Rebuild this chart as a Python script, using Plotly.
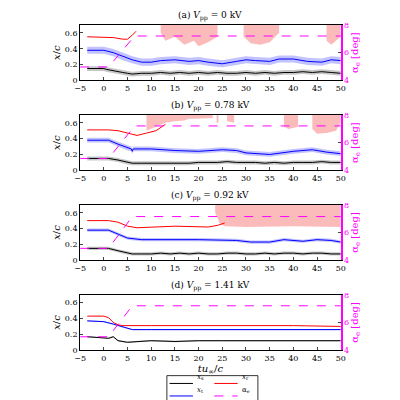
import numpy as np
import plotly.graph_objects as go

# data ------------------------------------------------------------------------

TITLES = ['(a) <i>V</i><sub>pp</sub> = 0 kV', '(b) <i>V</i><sub>pp</sub> = 0.78 kV',
          '(c) <i>V</i><sub>pp</sub> = 0.92 kV', '(d) <i>V</i><sub>pp</sub> = 1.41 kV']

# x_s (black) : time, mean, band half width
xsT = [[-3.5, 0, 0.5, 2, 4, 5, 6, 8, 10, 12, 14, 16, 18, 20, 22, 24, 26, 28, 30, 32, 34, 36, 38, 40, 42, 44, 46, 48, 50],
       [-3.5, 0, 1, 3, 5, 6, 8, 10, 12, 14, 16, 18, 20, 22, 24, 26, 28, 30, 32, 34, 36, 38, 40, 42, 44, 46, 48, 50],
       [-3.5, 0, 1, 3, 5, 6, 8, 10, 12, 14, 16, 18, 20, 22, 24, 26, 28, 30, 32, 34, 36, 38, 40, 42, 44, 46, 48, 50],
       [-3.5, 0, 1, 2, 3, 5, 7, 10, 15, 20, 25, 30, 35, 40, 45, 50]]
xsY = [[0.15, 0.15, 0.14, 0.12, 0.10, 0.09, 0.08, 0.09, 0.09, 0.10, 0.09, 0.10, 0.09, 0.10, 0.09, 0.10, 0.09, 0.09, 0.10, 0.09, 0.10, 0.09, 0.10, 0.10, 0.11, 0.10, 0.11, 0.10, 0.09],
       [0.15, 0.15, 0.15, 0.13, 0.10, 0.09, 0.09, 0.09, 0.09, 0.09, 0.09, 0.09, 0.10, 0.10, 0.10, 0.11, 0.10, 0.10, 0.10, 0.09, 0.10, 0.09, 0.10, 0.10, 0.10, 0.11, 0.10, 0.10],
       [0.15, 0.15, 0.15, 0.12, 0.09, 0.08, 0.08, 0.08, 0.09, 0.08, 0.09, 0.08, 0.09, 0.08, 0.08, 0.09, 0.09, 0.08, 0.08, 0.09, 0.08, 0.09, 0.09, 0.08, 0.09, 0.09, 0.08, 0.08],
       [0.17, 0.16, 0.15, 0.17, 0.12, 0.10, 0.11, 0.12, 0.11, 0.12, 0.12, 0.12, 0.12, 0.12, 0.12, 0.12]]
xsW = [0.03, 0.025, 0.02, 0.01]

# x_t (blue)
xtT = [[-3.5, 0, 2, 4, 6, 8, 10, 12, 15, 18, 20, 22, 25, 28, 30, 32, 35, 37, 40, 43, 46, 48, 50],
       [-3.5, 1, 3, 5, 5.8, 6, 6.2, 10, 15, 20, 25, 28, 30, 35, 40, 44, 47, 50],
       [-3.5, 1, 3, 5, 8, 20, 28, 31, 35, 38, 42, 45, 48, 50],
       [-3.5, 0, 2, 4, 6, 10, 20, 30, 40, 50]]
xtY = [[0.38, 0.38, 0.35, 0.30, 0.26, 0.23, 0.23, 0.25, 0.26, 0.24, 0.25, 0.23, 0.21, 0.24, 0.26, 0.25, 0.24, 0.27, 0.27, 0.24, 0.23, 0.26, 0.25],
       [0.38, 0.38, 0.33, 0.28, 0.27, 0.24, 0.27, 0.27, 0.25, 0.24, 0.26, 0.25, 0.22, 0.20, 0.24, 0.26, 0.23, 0.21],
       [0.38, 0.38, 0.33, 0.28, 0.26, 0.26, 0.25, 0.23, 0.23, 0.26, 0.24, 0.26, 0.25, 0.23],
       [0.37, 0.36, 0.33, 0.29, 0.26, 0.26, 0.26, 0.26, 0.26, 0.26]]
xtW = [0.045, 0.03, 0.02, 0.008]

# x_r (red)
xrT = [[-3.5, 0, 2, 4, 5, 6, 6.8],
       [-3.5, 1, 3, 6, 7, 9, 11, 13],
       [-3.5, 1, 3, 5, 7, 10, 15, 22, 24, 25.5],
       [-3.5, 0, 1, 2, 3, 4, 10, 20, 30, 40, 50]]
xrY = [[0.55, 0.54, 0.54, 0.52, 0.52, 0.57, 0.62],
       [0.51, 0.51, 0.50, 0.45, 0.44, 0.47, 0.50, 0.58],
       [0.50, 0.50, 0.48, 0.43, 0.41, 0.42, 0.43, 0.42, 0.44, 0.47],
       [0.43, 0.43, 0.41, 0.35, 0.32, 0.31, 0.31, 0.31, 0.31, 0.31, 0.30]]

# red spread regions reaching above the axis (time, lower edge)
rbT = [[[12, 13, 15, 17, 19, 20, 22, 24], [29.5, 31, 33, 35, 37], [47, 48, 50]],
       [[9, 11, 13, 15, 17, 18, 19, 23], [23.8, 24.2], [26, 27.5], [38, 39, 41], [44, 45, 47, 49, 50]],
       [[23.5, 24.5, 25.5, 30, 40, 50]],
       []]
rbY = [[[0.60, 0.50, 0.55, 0.45, 0.50, 0.43, 0.48, 0.55], [0.55, 0.47, 0.45, 0.48, 0.60], [0.50, 0.45, 0.55]],
       [[0.50, 0.55, 0.60, 0.62, 0.63, 0.65, 0.65, 0.66], [0.60, 0.60], [0.62, 0.60], [0.55, 0.52, 0.55], [0.52, 0.46, 0.47, 0.50, 0.60]],
       [[0.60, 0.46, 0.43, 0.42, 0.43, 0.42]],
       []]

# alpha_e (magenta dashed)
aT = [[-5, 1, 6.5, 50], [-5, 1, 6.5, 50], [-5, 1, 6, 50], [-5, 1, 6, 50]]
aY = [[4.97, 4.97, 7.2, 7.2], [4.86, 4.86, 7.2, 7.2], [4.86, 4.86, 7.15, 7.15], [4.97, 4.97, 7.2, 7.2]]

# plot ------------------------------------------------------------------------

FONT = 'DejaVu Serif'
X0, X1 = 0.17, 0.84
DOMS = [(0.825, 0.967), (0.595, 0.737), (0.365, 0.507), (0.135, 0.277)]

fig = go.Figure()

def band(fig, t, y, w, fill, xa, ya):
    t = np.array(t, float); y = np.array(y, float)
    fig.add_trace(go.Scatter(x=np.concatenate([t, t[::-1]]),
                             y=np.concatenate([y + w, (y - w)[::-1]]), mode='lines',
                             fill='toself', fillcolor=fill, line=dict(width=0),
                             xaxis=xa, yaxis=ya, showlegend=False, hoverinfo='skip'))

for i in range(4):
    n = i + 1
    xa = 'x' if n == 1 else 'x%d' % n
    ya = 'y' if n == 1 else 'y%d' % n
    yr = 'y%d' % (n + 4)
    for segT, segY in zip(rbT[i], rbY[i]):
        segT = np.array(segT); segY = np.array(segY)
        fig.add_trace(go.Scatter(x=np.concatenate([segT, segT[::-1]]),
                                 y=np.concatenate([segY, np.full(len(segT), 0.7)]), mode='lines',
                                 fill='toself', fillcolor='rgba(250,150,150,0.65)', line=dict(width=0),
                                 xaxis=xa, yaxis=ya, showlegend=False, hoverinfo='skip'))
    band(fig, xsT[i], xsY[i], xsW[i], 'rgba(130,130,130,0.45)', xa, ya)
    band(fig, xtT[i], xtY[i], xtW[i], 'rgba(120,120,255,0.45)', xa, ya)
    fig.add_trace(go.Scatter(x=xsT[i], y=xsY[i], mode='lines', line=dict(color='black', width=1),
                             xaxis=xa, yaxis=ya, showlegend=False))
    fig.add_trace(go.Scatter(x=xtT[i], y=xtY[i], mode='lines', line=dict(color='blue', width=1),
                             xaxis=xa, yaxis=ya, showlegend=False))
    fig.add_trace(go.Scatter(x=xrT[i], y=xrY[i], mode='lines', line=dict(color='red', width=1),
                             xaxis=xa, yaxis=ya, showlegend=False))
    fig.add_trace(go.Scatter(x=aT[i], y=aY[i], mode='lines', line=dict(color='magenta', width=1, dash='dash'),
                             xaxis=xa, yaxis=yr, showlegend=False))

    d = DOMS[i]
    fig.update_layout({
        'xaxis%s' % ('' if n == 1 else n): dict(
            domain=[X0, X1], anchor=ya, range=[-5, 50], dtick=5, ticks='inside', ticklen=3,
            showline=True, mirror=True, linecolor='black', showgrid=False, zeroline=False,
            title=dict(text='<i>tu</i><sub>∞</sub>/<i>c</i>', standoff=0) if n == 4 else None),
        'yaxis%s' % ('' if n == 1 else n): dict(
            domain=list(d), anchor=xa, range=[0, 0.7], tickvals=[0, 0.2, 0.4, 0.6],
            ticktext=['0', '0.2', '0.4', '0.6'], ticks='inside', ticklen=3,
            showline=True, linecolor='black', showgrid=False, zeroline=False,
            title=dict(text='<i>x</i>/<i>c</i>', standoff=2)),
        'yaxis%d' % (n + 4): dict(
            overlaying=ya, anchor=xa, side='right', range=[4, 8], tickvals=[4, 6, 8],
            ticks='inside', ticklen=3, showline=True, linecolor='magenta', linewidth=1.5,
            tickfont=dict(color='magenta'), showgrid=False, zeroline=False,
            title=dict(text='α<sub>e</sub> [deg]', font=dict(color='magenta'), standoff=2)),
    })
    fig.add_annotation(x=(X0 + X1) / 2, y=d[1] + 0.003, xref='paper', yref='paper', text=TITLES[i],
                       showarrow=False, yanchor='bottom', font=dict(size=9))

# legend box drawn by hand
fig.add_shape(type='rect', xref='paper', yref='paper', x0=0.393, x1=0.627, y0=0.0, y1=0.07,
              line=dict(color='black', width=0.8))
LEG = [('<i>x</i><sub>s</sub>', 'black', 'solid', 0.4, 0.05), ('<i>x</i><sub>r</sub>', 'red', 'solid', 0.515, 0.05),
       ('<i>x</i><sub>t</sub>', 'blue', 'solid', 0.4, 0.018), ('α<sub>e</sub>', 'magenta', 'dash', 0.515, 0.018)]
for txt, col, dash, lx, ly in LEG:
    fig.add_shape(type='line', xref='paper', yref='paper', x0=lx, x1=lx + 0.06, y0=ly, y1=ly,
                  line=dict(color=col, width=1, dash=dash))
    fig.add_annotation(x=lx + 0.065, y=ly, xref='paper', yref='paper', text=txt, showarrow=False,
                       xanchor='left', font=dict(size=7))

fig.update_layout(width=400, height=400, margin=dict(l=0, r=0, t=0, b=0),
                  paper_bgcolor='white', plot_bgcolor='white',
                  font=dict(family=FONT, size=8, color='black'))
fig.write_html('out.html')
